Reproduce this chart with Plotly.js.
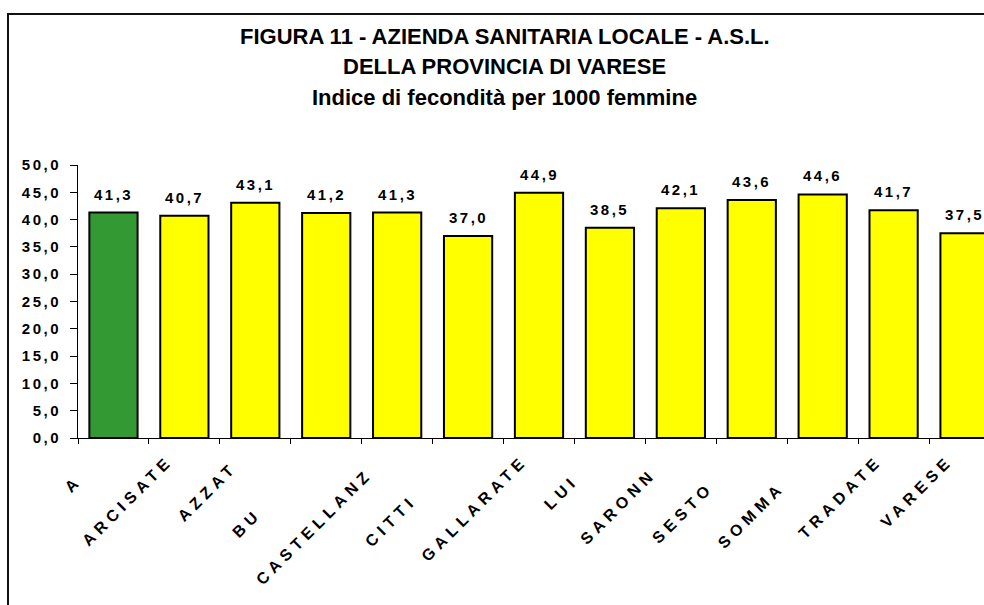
<!DOCTYPE html>
<html>
<head>
<meta charset="utf-8">
<script src="https://cdn.plot.ly/plotly-3.0.1.min.js"></script>
<style>
html,body{margin:0;padding:0;background:#fff;}
#wrap{position:relative;width:984px;height:605px;overflow:hidden;background:#fff;}
#chart{position:absolute;left:0;top:0;width:1010px;height:605px;}
#frame{position:absolute;left:7px;top:13px;width:1100px;height:700px;border-left:2px solid #111;border-top:2px solid #111;pointer-events:none;}
.xtick text{letter-spacing:5px;font-weight:bold !important;}
.ytick text{letter-spacing:2.5px;font-weight:bold !important;}
.annotation text{letter-spacing:2.5px;font-weight:bold !important;}
.annotation[data-index="0"] text,.annotation[data-index="1"] text,.annotation[data-index="2"] text{letter-spacing:0;}
</style>
</head>
<body>
<div id="wrap"><div id="chart"></div><div id="frame"></div></div>
<script>
// ---- data ----
const categories = ["A.S.L.", "ARCISATE", "AZZATE", "BUSTO A.", "CASTELLANZA", "CITTIGLIO", "GALLARATE", "LUINO", "SARONNO", "SESTO C.", "SOMMA L.", "TRADATE", "VARESE"];
const tickLabels = ["A", "ARCISATE", "AZZAT", "BU", "CASTELLANZ", "CITTI", "GALLARATE", "LUI", "SARONN", "SESTO", "SOMMA", "TRADATE", "VARESE"];
const values = [41.3, 40.7, 43.1, 41.2, 41.3, 37.0, 44.9, 38.5, 42.1, 43.6, 44.6, 41.7, 37.5];
const titleLines = ["FIGURA 11 - AZIENDA SANITARIA LOCALE - A.S.L.", "DELLA PROVINCIA DI VARESE", "Indice di fecondità per 1000 femmine"];

// ---- styling ----
const FONT = "Arial, 'Liberation Sans', sans-serif";
const GREEN = "#339933", YELLOW = "#FFFF00";
const labelPad = [3, 0, 1, 8, 2, 6, 0, 3, 2, 4, 4, 0, 0]; // clipped-label offsets
const NB = "\u00a0";
const tickText = tickLabels.map((t, i) => t + NB.repeat(labelPad[i]));
const colors = categories.map((c, i) => i === 0 ? GREEN : YELLOW);
const fmt = v => v.toFixed(1).replace(".", ",");

const titleY = [1.4725, 1.3590, 1.2490];
const annotations = titleLines.map((t, i) => ({
  text: "<b>" + t + "</b>", xref: "paper", yref: "paper", x: 0.4631, y: titleY[i],
  xanchor: "center", yanchor: "middle", showarrow: false,
  font: {family: FONT, size: 22, color: "#000"}
})).concat(values.map((v, i) => ({
  text: "<b>" + fmt(v) + "</b>", x: categories[i], y: v, xref: "x", yref: "y",
  xanchor: "center", yanchor: "bottom", yshift: 8, showarrow: false,
  font: {family: FONT, size: 15, color: "#000"}
})));

const trace = {
  type: "bar", x: categories, y: values,
  marker: {color: colors, line: {color: "#000", width: 2}},
  hoverinfo: "none"
};

const layout = {
  width: 1010, height: 605,
  margin: {l: 78, r: 10, t: 165, b: 167, autoexpand: false},
  paper_bgcolor: "#fff", plot_bgcolor: "#fff",
  separators: ",.",
  bargap: 0.32,
  showlegend: false,
  font: {family: FONT, color: "#000"},
  xaxis: {
    type: "category", range: [-0.5, 12.5], tickmode: "array", tickvals: categories, ticktext: tickText,
    tickangle: -45, tickson: "boundaries", ticks: "outside", ticklen: 5, tickcolor: "#000", tickwidth: 1,
    showline: true, linecolor: "#000", linewidth: 1, showgrid: false, zeroline: false,
    ticklabelshift: -16, ticklabelstandoff: 6,
    tickfont: {family: FONT, size: 16, weight: 700, color: "#000"}
  },
  yaxis: {
    range: [0, 50], tick0: 0, dtick: 5, tickformat: ".1f",
    ticks: "outside", ticklen: 7, tickcolor: "#000", tickwidth: 1,
    showline: true, linecolor: "#000", linewidth: 1, showgrid: false, zeroline: false,
    ticklabelstandoff: 6,
    tickfont: {family: FONT, size: 15, weight: 700, color: "#000"}
  },
  annotations: annotations
};

Plotly.newPlot("chart", [trace], layout, {displayModeBar: false, staticPlot: true});
</script>
</body>
</html>
